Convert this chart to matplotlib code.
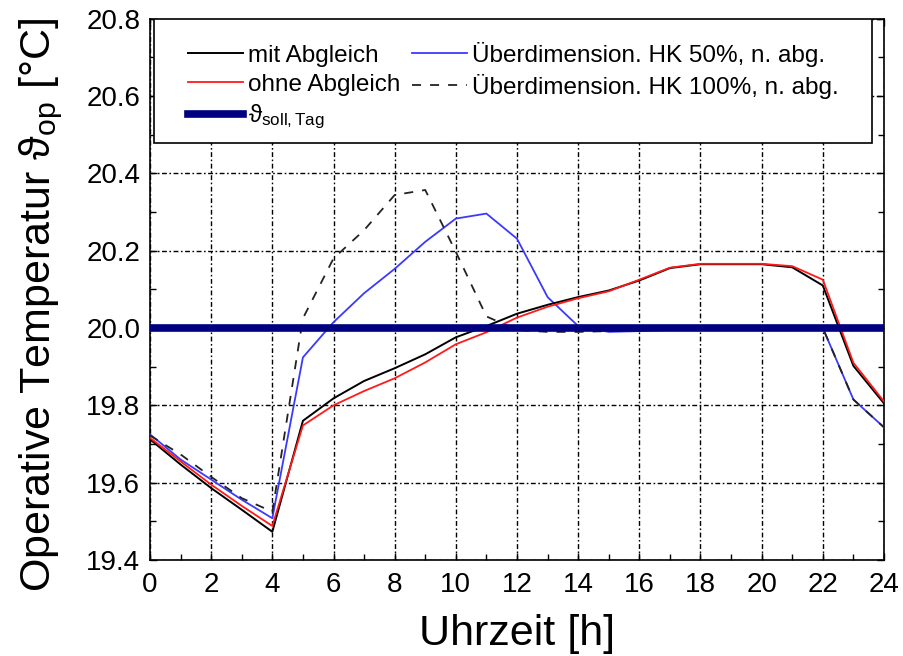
import matplotlib
matplotlib.use("Agg")
import matplotlib.pyplot as plt
from matplotlib.patches import Rectangle
from matplotlib.ticker import MultipleLocator

hours = list(range(25))
mit_abgleich = [19.712, 19.647, 19.586, 19.530, 19.473, 19.760, 19.818, 19.863, 19.896, 19.932,
                19.976, 20.005, 20.037, 20.060, 20.080, 20.097, 20.123, 20.155, 20.165, 20.165,
                20.165, 20.157, 20.110, 19.902, 19.805]
ohne_abgleich = [19.716, 19.655, 19.595, 19.540, 19.488, 19.748, 19.800, 19.837, 19.870, 19.911,
                 19.958, 19.989, 20.027, 20.055, 20.077, 20.095, 20.125, 20.156, 20.166, 20.166,
                 20.166, 20.160, 20.125, 19.910, 19.810]
hk50 = [19.725, 19.660, 19.608, 19.556, 19.508, 19.924, 20.015, 20.090, 20.153, 20.223,
        20.283, 20.296, 20.231, 20.080, 20.005, 19.990, 19.992, 19.995, 20.000, 20.000,
        20.000, 20.000, 20.000, 19.815, 19.743]
hk100 = [19.722, 19.673, 19.615, 19.560, 19.525, 20.025, 20.180, 20.253, 20.344, 20.357,
         20.197, 20.030, 19.995, 19.990, 19.990, 19.992, 19.995, 19.998, 20.000, 20.000,
         20.000, 20.000, 20.000, 19.815, 19.743]
soll_tag = 20.0

labels = ["mit Abgleich", "ohne Abgleich", r"$\mathrm{\vartheta}_{\mathrm{soll,Tag}}$",
          "Überdimension. HK 50%, n. abg.", "Überdimension. HK 100%, n. abg."]
x_ticks = list(range(0, 25, 2))
y_ticks = [19.4, 19.6, 19.8, 20.0, 20.2, 20.4, 20.6, 20.8]

plt.rcParams['font.family'] = ['Liberation Sans', 'DejaVu Sans']
plt.rcParams['mathtext.fontset'] = 'custom'
plt.rcParams['mathtext.rm'] = 'Liberation Sans'
plt.rcParams['mathtext.it'] = 'Liberation Sans:italic'
plt.rcParams['mathtext.fallback'] = 'stixsans'

fig = plt.figure(figsize=(9.04, 6.56), dpi=100)
ax = fig.add_axes([150/904, 1-560/656, 734/904, (560-18.7)/656])

grid_ls = (0, (3.5, 1.8, 1.2, 1.8))
ax.grid(True, which='major', color='black', linestyle=grid_ls, linewidth=1.0)
ax.set_axisbelow(True)

l_blue, = ax.plot(hours, hk50, color='#3a3aff', lw=1.3, zorder=3)
l_dash, = ax.plot(hours, hk100, color='#222222', lw=1.3, ls=(0, (5, 5)), zorder=3)
l_black, = ax.plot(hours, mit_abgleich, color='black', lw=1.4, zorder=4)
l_red, = ax.plot(hours, ohne_abgleich, color='#ff1a1a', lw=1.3, zorder=5)
l_soll = ax.axhline(soll_tag, color='#000080', lw=5.5, zorder=6)

ax.set_xlim(0, 24)
ax.set_ylim(19.4, 20.8)
ax.set_xticks(x_ticks)
ax.set_yticks(y_ticks)
ax.set_yticklabels([f"{v:.1f}" for v in y_ticks])
ax.xaxis.set_minor_locator(MultipleLocator(1))
ax.yaxis.set_minor_locator(MultipleLocator(0.1))
ax.tick_params(which='both', direction='in', top=True, right=True, width=1.0)
ax.tick_params(which='major', length=5, labelsize=20, pad=7)
ax.tick_params(axis='x', which='major', pad=9)
ax.tick_params(which='minor', length=4)
for s in ax.spines.values():
    s.set_linewidth(1.2)

ax.set_xlabel("Uhrzeit [h]", fontsize=31, labelpad=11)
ax.set_ylabel(r"Operative Temperatur $\mathrm{\vartheta}_{\mathrm{op}}$ [°C]", fontsize=31)
ax.yaxis.set_label_coords(-0.116, 0.471)

# legend box
box = Rectangle((4/734, (560-143)/541.3), (872-154)/734, (143-19)/541.3,
                transform=ax.transAxes, facecolor='white', edgecolor='black',
                lw=1.2, zorder=7)
ax.add_patch(box)
leg = ax.legend([l_black, l_red, l_soll, l_blue, l_dash], labels, ncol=2,
                loc='upper left', bbox_to_anchor=(38/734, (560-42)/541.3),
                frameon=False, fontsize=17.5, handlelength=2.25, handletextpad=0.2,
                columnspacing=0.5, labelspacing=0.28, borderpad=0, borderaxespad=0)
leg.set_zorder(8)

fig.savefig("out.png", dpi=100)
